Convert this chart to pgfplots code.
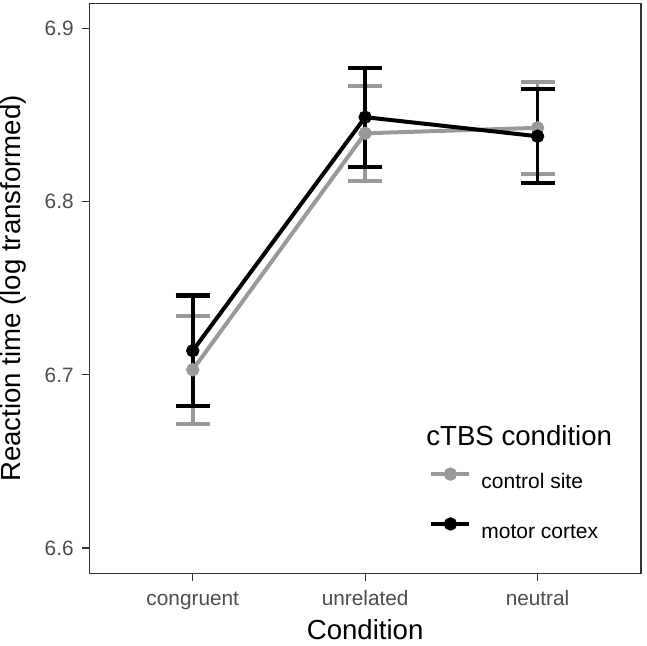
\documentclass[border=0pt]{standalone}
\usepackage{fontspec}
\setmainfont{Liberation Sans}
\usepackage{pgfplots}
\pgfplotsset{compat=1.18}
\definecolor{ctrl}{HTML}{999999}
\definecolor{axgray}{HTML}{333333}
\definecolor{tickgray}{HTML}{4D4D4D}
\begin{document}
\begin{tikzpicture}
\begin{axis}[
  scale only axis, width=275.85pt, height=285.2pt,
  xmin=-0.6, xmax=2.6, ymin=6.5852, ymax=6.9145,
  xtick={0,1,2}, xticklabels={congruent,unrelated,neutral},
  ytick={6.6,6.7,6.8,6.9},
  /pgf/number format/.cd, fixed, fixed zerofill, precision=1, assume math mode=true,
  /pgfplots/.cd,
  axis line style={axgray, line width=0.65pt},
  tick style={axgray, line width=0.65pt},
  major tick length=3.85pt, tick align=outside, tick pos=left,
  tick label style={font=\fontsize{10.4}{12}\selectfont, text=tickgray},
  xticklabel style={anchor=base, inner sep=0pt, yshift=-11.8pt},
  yticklabel style={anchor=east, inner sep=0pt, xshift=-3.8pt},
  xlabel={Condition}, ylabel={Reaction time (log transformed)},
  label style={font=\fontsize{13.8}{16}\selectfont},
  xlabel style={at={(axis description cs:0.5,-0.1162)}, anchor=base, inner sep=0pt},
  ylabel style={at={(axis description cs:-0.1243,0.5)}, anchor=base, inner sep=0pt},
  legend style={draw=none, fill=none, at={(axis description cs:0.6158,0.1219)}, anchor=west,
    inner sep=0pt, row sep=15.2pt, column sep=5pt, font=\fontsize{10.5}{12}\selectfont,
    nodes={inner sep=0pt, text height=7.6pt, text depth=0pt}},
  legend cell align=left,
  legend image code/.code={\draw[#1, mark repeat=2, mark phase=2] plot coordinates {(0pt,3.6pt) (9.5pt,3.6pt) (19pt,3.6pt)};},
]
\addplot[ctrl, line width=2pt, mark=*, mark size=2.3pt, mark options={solid, fill=ctrl, draw=ctrl},
  error bars/.cd, y dir=both, y explicit, error mark=|,
  error bar style={line width=1.8pt, ctrl},
  error mark options={ctrl, line width=2.1pt, mark size=8.5pt}]
  coordinates {
  (0,6.70295) +- (0,0.03125)
  (1,6.83945) +- (0,0.02745)
  (2,6.84260) +- (0,0.02660)
  };
\addlegendentry{control site}
\addplot[black, line width=2pt, mark=*, mark size=2.3pt, mark options={solid, fill=black, draw=black},
  error bars/.cd, y dir=both, y explicit, error mark=|,
  error bar style={line width=1.8pt, black},
  error mark options={black, line width=2.1pt, mark size=8.5pt}]
  coordinates {
  (0,6.71395) +- (0,0.03185)
  (1,6.84875) +- (0,0.02855)
  (2,6.83775) +- (0,0.02715)
  };
\addlegendentry{motor cortex}
\node[anchor=base west, inner sep=0pt, font=\fontsize{13.8}{16}\selectfont] at (axis description cs:0.6103,0.2244) {cTBS condition};
\coordinate (bl) at (rel axis cs:0,0);
\coordinate (tr) at (rel axis cs:1,1);
\end{axis}
\pgfresetboundingbox
\path ([shift={(-44.65pt,-36.15pt)}]bl) rectangle ([shift={(2.5pt,1.65pt)}]tr);
\end{tikzpicture}
\end{document}
